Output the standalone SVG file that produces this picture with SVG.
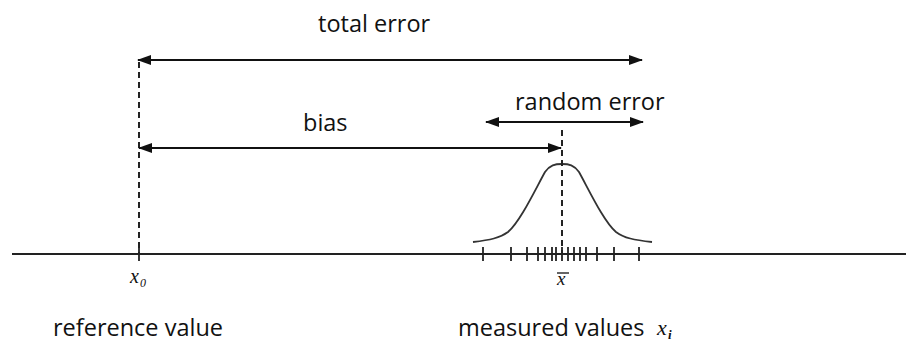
<svg xmlns="http://www.w3.org/2000/svg" width="910" height="342" viewBox="0 0 910 342">
  <defs>
    <marker id="ah" viewBox="0 0 14 10" refX="13" refY="5" markerWidth="14" markerHeight="10" markerUnits="userSpaceOnUse" orient="auto-start-reverse">
      <path d="M0,0 L14,5 L0,10 z" fill="#111"/>
    </marker>
    <style>
      .lbl { font-family: "Open Sans", "Liberation Sans", sans-serif; font-size: 23.5px; fill: #111; }
      .math { font-family: "Liberation Serif", "DejaVu Serif", serif; font-style: italic; fill: #111; }
      .arr { stroke: #111; stroke-width: 2; fill: none; marker-start: url(#ah); marker-end: url(#ah); }
      .dash { stroke: #222; stroke-width: 2; stroke-dasharray: 6 4; fill: none; }
      .tick { stroke: #222; stroke-width: 1.8; }
    </style>
  </defs>

  <g id="axis">
    <line x1="12" y1="254" x2="906" y2="254" stroke="#222" stroke-width="2"/>
  </g>

  <g id="reference">
    <line class="dash" x1="139" y1="62" x2="139" y2="254"/>
    <line class="tick" x1="139" y1="247" x2="139" y2="261"/>
    <text class="math" x="130" y="283" font-size="20">x</text>
    <text class="math" x="140" y="287" font-size="12" font-style="normal">0</text>
    <text class="lbl" x="53" y="336">reference value</text>
  </g>

  <g id="measured">
    <path d="M473,242 C490,240 500,238 508,232 C520,222 535,190 545,172 C550,165 555,164 562,164 C569,164 574,165 579,172 C589,190 604,222 616,232 C624,238 634,240 652,242" fill="none" stroke="#333" stroke-width="1.8"/>
    <line class="dash" x1="562" y1="130" x2="562" y2="254" stroke-dasharray="5 3"/>
    <g class="tick">
      <line x1="483" y1="247" x2="483" y2="261"/>
      <line x1="511" y1="247" x2="511" y2="261"/>
      <line x1="527" y1="247" x2="527" y2="261"/>
      <line x1="538" y1="247" x2="538" y2="261"/>
      <line x1="545" y1="247" x2="545" y2="261"/>
      <line x1="552" y1="247" x2="552" y2="261"/>
      <line x1="556" y1="247" x2="556" y2="261"/>
      <line x1="562" y1="247" x2="562" y2="261"/>
      <line x1="568" y1="247" x2="568" y2="261"/>
      <line x1="574" y1="247" x2="574" y2="261"/>
      <line x1="580" y1="247" x2="580" y2="261"/>
      <line x1="586" y1="247" x2="586" y2="261"/>
      <line x1="597" y1="247" x2="597" y2="261"/>
      <line x1="614" y1="247" x2="614" y2="261"/>
      <line x1="639" y1="247" x2="639" y2="261"/>
    </g>
    <text class="math" x="557" y="285" font-size="19">x</text>
    <line x1="557" y1="273" x2="569" y2="273" stroke="#111" stroke-width="1.3"/>
    <text class="lbl" x="458" y="336">measured values</text>
    <text class="math" x="657" y="335" font-size="22">x</text>
    <text class="math" x="668" y="339" font-size="13" font-style="normal" font-weight="bold">i</text>
  </g>

  <g id="connectors">
    <line class="arr" x1="138" y1="60" x2="642" y2="60"/>
    <line class="arr" x1="139" y1="148" x2="561" y2="148"/>
    <line class="arr" x1="486" y1="122" x2="643" y2="122"/>
  </g>

  <g id="labels">
    <text class="lbl" x="318" y="32">total error</text>
    <text class="lbl" x="303" y="131">bias</text>
    <text class="lbl" x="515" y="110">random error</text>
  </g>
</svg>
